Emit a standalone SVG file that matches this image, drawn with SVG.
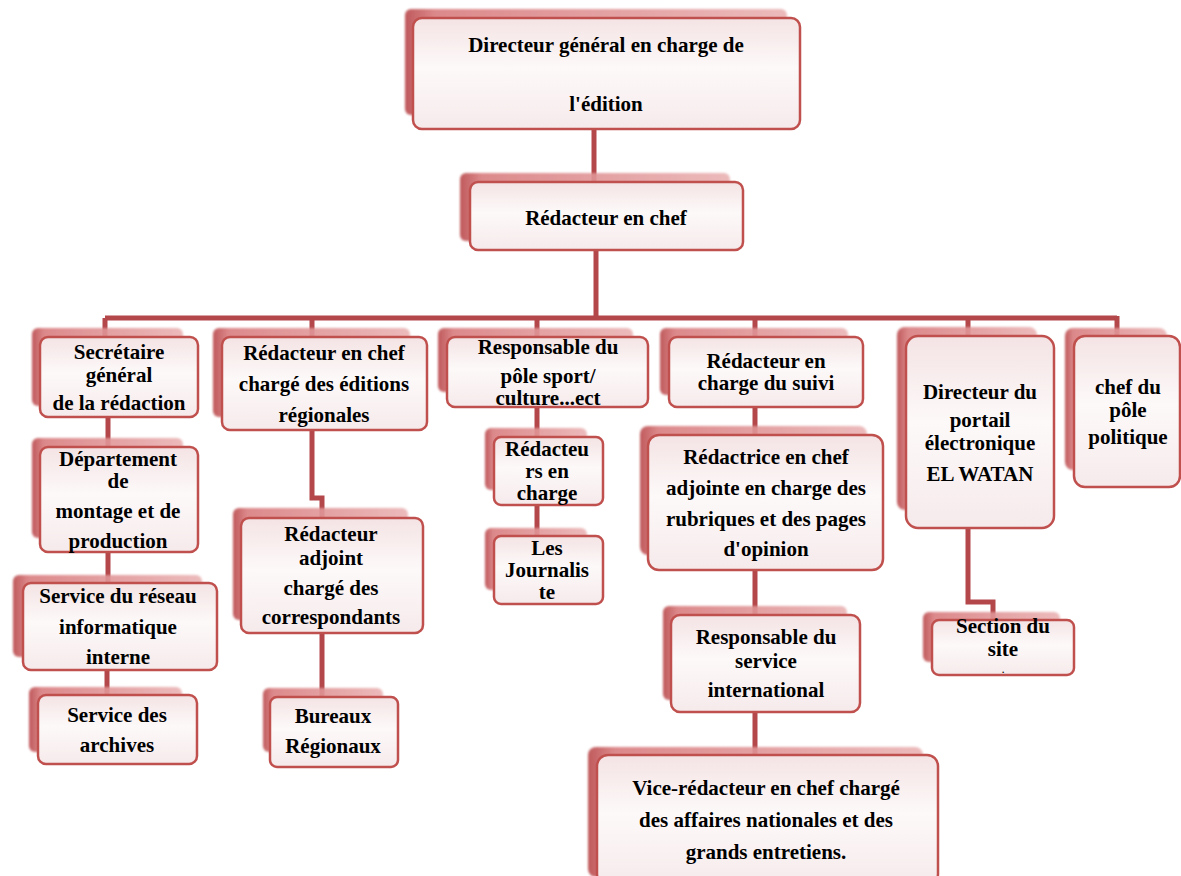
<svg xmlns="http://www.w3.org/2000/svg" width="1181" height="876" viewBox="0 0 1181 876">
<defs>
<linearGradient id="shd" x1="0" y1="0" x2="1" y2="0">
<stop offset="0" stop-color="#b9484b"/>
<stop offset="0.08" stop-color="#d97d7f"/>
<stop offset="1" stop-color="#eab3b4"/>
</linearGradient>
<linearGradient id="fr" x1="0" y1="0" x2="0" y2="1">
<stop offset="0" stop-color="#f4e3e4"/>
<stop offset="0.45" stop-color="#fdf9f9"/>
<stop offset="1" stop-color="#f6eaeb"/>
</linearGradient>
<filter id="blur" x="-10%" y="-10%" width="120%" height="120%">
<feGaussianBlur stdDeviation="1.2"/>
</filter>
<style>
.s{fill:url(#shd);filter:url(#blur);opacity:0.9}
.f{fill:url(#fr);stroke:#c0504d;stroke-width:2.5}
.c{fill:none;stroke:#b3474a;stroke-width:5;stroke-linejoin:miter}
text{font-family:"Liberation Serif","Times New Roman",serif;font-weight:bold;font-size:21px;fill:#000;text-anchor:middle}
</style>
</defs>
<g id="connectors">
<path class="c" d="M594 128 V182"/>
<path class="c" d="M596 248 V318"/>
<path class="c" d="M105 318 H1117"/>
<path class="c" d="M105 318 V337"/>
<path class="c" d="M312 318 V337"/>
<path class="c" d="M537 318 V337"/>
<path class="c" d="M755 318 V337"/>
<path class="c" d="M968 318 V336"/>
<path class="c" d="M1117 316 V336"/>
<path class="c" d="M108 417 V447"/>
<path class="c" d="M108 552 V583"/>
<path class="c" d="M107 670 V695"/>
<path class="c" d="M312 430 V498 H322 V518"/>
<path class="c" d="M322 632 V697"/>
<path class="c" d="M537 407 V437"/>
<path class="c" d="M537 505 V536"/>
<path class="c" d="M755 407 V435"/>
<path class="c" d="M755 570 V615"/>
<path class="c" d="M755 712 V755"/>
<path class="c" d="M968 528 V602 H993 V620"/>
</g>
<g id="n-directeur-general">
<rect class="s" x="405" y="9" width="382" height="106" rx="6"/>
<rect class="f" x="413" y="18" width="387" height="111" rx="9"/>
<text x="606" y="52">Directeur général en charge de</text>
<text x="606" y="111">l'édition</text>
</g>
<g id="n-redacteur-chef">
<rect class="s" x="460" y="173" width="270" height="68" rx="6"/>
<rect class="f" x="470" y="182" width="273" height="68" rx="8"/>
<text x="606" y="225">Rédacteur en chef</text>
</g>
<g id="n-secretaire">
<rect class="s" x="32" y="328" width="151" height="78" rx="6"/>
<rect class="f" x="40" y="337" width="158" height="80" rx="8"/>
<text x="119" y="359">Secrétaire</text>
<text x="119" y="382">général</text>
<text x="119" y="410">de la rédaction</text>
</g>
<g id="n-redacteur-editions">
<rect class="s" x="213" y="328" width="197" height="89" rx="6"/>
<rect class="f" x="222" y="337" width="205" height="93" rx="8"/>
<text x="324" y="360">Rédacteur en chef</text>
<text x="324" y="391">chargé des éditions</text>
<text x="324" y="422">régionales</text>
</g>
<g id="n-responsable-pole">
<rect class="s" x="438" y="328" width="195" height="64" rx="6"/>
<rect class="f" x="447" y="337" width="201" height="70" rx="8"/>
<text x="548" y="354">Responsable du</text>
<text x="548" y="383">pôle sport/</text>
<text x="548" y="405">culture...ect</text>
</g>
<g id="n-redacteur-suivi">
<rect class="s" x="660" y="328" width="188" height="67" rx="6"/>
<rect class="f" x="669" y="337" width="194" height="70" rx="8"/>
<text x="766" y="368">Rédacteur en</text>
<text x="766" y="390">charge du suivi</text>
</g>
<g id="n-directeur-portail">
<rect class="s" x="897" y="327" width="140" height="183" rx="8"/>
<rect class="f" x="906" y="336" width="148" height="192" rx="12"/>
<text x="980" y="399">Directeur du</text>
<text x="980" y="427">portail</text>
<text x="980" y="450">électronique</text>
<text x="980" y="481">EL WATAN</text>
</g>
<g id="n-chef-politique">
<rect class="s" x="1065" y="328" width="102" height="142" rx="8"/>
<rect class="f" x="1074" y="336" width="106" height="151" rx="11"/>
<text x="1128" y="394">chef du</text>
<text x="1128" y="417">pôle</text>
<text x="1128" y="444">politique</text>
</g>
<g id="n-departement">
<rect class="s" x="32" y="438" width="151" height="100" rx="6"/>
<rect class="f" x="40" y="447" width="158" height="105" rx="8"/>
<text x="118" y="466">Département</text>
<text x="118" y="488">de</text>
<text x="118" y="518">montage et de</text>
<text x="118" y="548">production</text>
</g>
<g id="n-service-reseau">
<rect class="s" x="13" y="575" width="189" height="82" rx="6"/>
<rect class="f" x="23" y="583" width="194" height="87" rx="8"/>
<text x="118" y="603">Service du réseau</text>
<text x="118" y="634">informatique</text>
<text x="118" y="664">interne</text>
</g>
<g id="n-service-archives">
<rect class="s" x="29" y="687" width="153" height="65" rx="6"/>
<rect class="f" x="38" y="695" width="159" height="69" rx="8"/>
<text x="117" y="722">Service des</text>
<text x="117" y="752">archives</text>
</g>
<g id="n-redacteur-adjoint">
<rect class="s" x="233" y="508" width="175" height="112" rx="6"/>
<rect class="f" x="241" y="518" width="182" height="115" rx="8"/>
<text x="331" y="541">Rédacteur</text>
<text x="331" y="565">adjoint</text>
<text x="331" y="595">chargé des</text>
<text x="331" y="624">correspondants</text>
</g>
<g id="n-bureaux">
<rect class="s" x="263" y="688" width="120" height="64" rx="6"/>
<rect class="f" x="270" y="697" width="128" height="70" rx="7"/>
<text x="333" y="723">Bureaux</text>
<text x="333" y="753">Régionaux</text>
</g>
<g id="n-redacteurs-charge">
<rect class="s" x="485" y="428" width="102" height="62" rx="6"/>
<rect class="f" x="494" y="437" width="109" height="68" rx="7"/>
<text x="547" y="456">Rédacteu</text>
<text x="547" y="478">rs en</text>
<text x="547" y="500">charge</text>
</g>
<g id="n-journaliste">
<rect class="s" x="485" y="528" width="102" height="62" rx="6"/>
<rect class="f" x="494" y="536" width="109" height="68" rx="7"/>
<text x="547" y="555">Les</text>
<text x="547" y="577">Journalis</text>
<text x="547" y="599">te</text>
</g>
<g id="n-redactrice">
<rect class="s" x="640" y="426" width="227" height="129" rx="8"/>
<rect class="f" x="648" y="435" width="235" height="135" rx="11"/>
<text x="766" y="464">Rédactrice en chef</text>
<text x="766" y="495">adjointe en charge des</text>
<text x="766" y="526">rubriques et des pages</text>
<text x="766" y="556">d'opinion</text>
</g>
<g id="n-responsable-international">
<rect class="s" x="663" y="606" width="184" height="94" rx="6"/>
<rect class="f" x="671" y="615" width="189" height="97" rx="9"/>
<text x="766" y="644">Responsable du</text>
<text x="766" y="668">service</text>
<text x="766" y="697">international</text>
</g>
<g id="n-vice-redacteur">
<rect class="s" x="588" y="747" width="335" height="130" rx="8"/>
<rect class="f" x="597" y="755" width="341" height="130" rx="11"/>
<text x="766" y="795">Vice-rédacteur en chef chargé</text>
<text x="766" y="827">des affaires nationales et des</text>
<text x="766" y="859">grands entretiens.</text>
</g>
<g id="n-section-site">
<rect class="s" x="923" y="612" width="137" height="50" rx="6"/>
<rect class="f" x="932" y="620" width="142" height="55" rx="7"/>
<text x="1003" y="633">Section du</text>
<text x="1003" y="656">site</text>
<text x="1003" y="673" style="font-size:9px">.</text>
</g>
</svg>
